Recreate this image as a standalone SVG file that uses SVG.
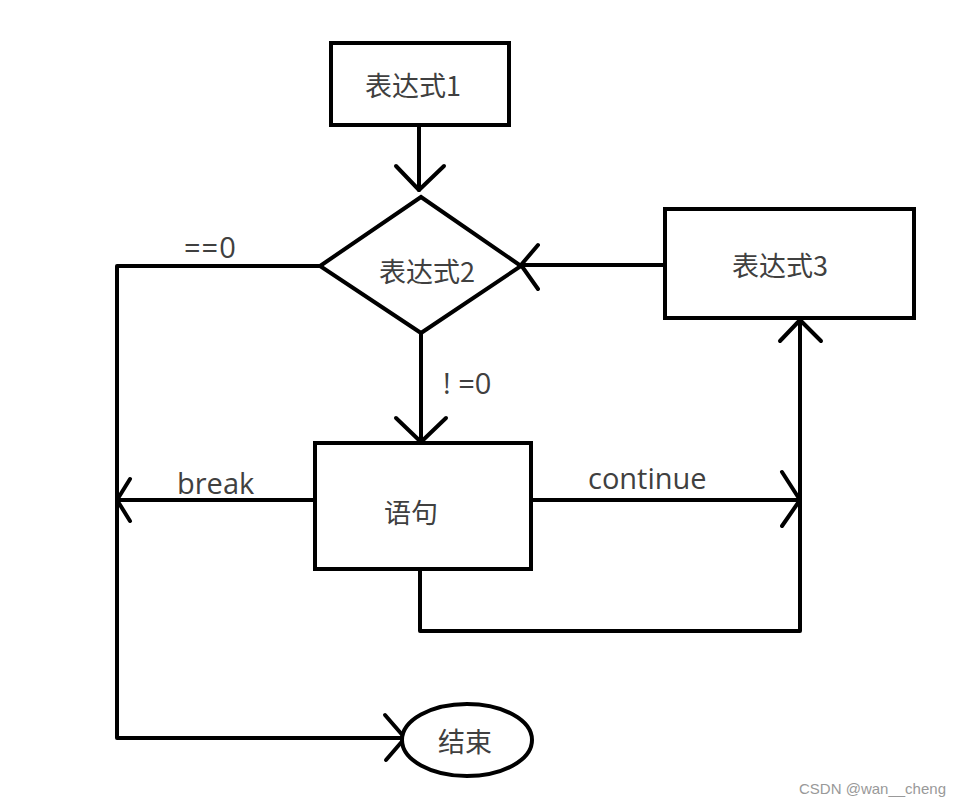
<svg xmlns="http://www.w3.org/2000/svg" width="961" height="807" viewBox="0 0 961 807">
<style>
.n{fill:#fff;stroke:#000;stroke-width:4}
.c{fill:none;stroke:#000;stroke-width:4;stroke-linecap:round;stroke-linejoin:round}
.t{font-family:"Noto Sans CJK SC","Liberation Sans",sans-serif;font-size:27px;fill:#404040;text-anchor:middle;dominant-baseline:central}
.l{font-family:"Open Sans","Liberation Sans",sans-serif;font-size:29px;fill:#404040}
.w{font-family:"Liberation Sans",sans-serif;font-size:15px;fill:#999}
</style>
<rect width="961" height="807" fill="#fff"/>
<g id="connectors">
<path class="c" d="M419 125 V190"/>
<path class="c" d="M396 166 L419 190 L444 166"/>
<path class="c" d="M664 265 H521"/>
<path class="c" d="M538 245 L521 265 L538 289"/>
<path class="c" d="M320 266 H117 V738 H405"/>
<path class="c" d="M385 715 L405 738 L386 760"/>
<path class="c" d="M421 333 V442"/>
<path class="c" d="M396 418 L421 442 L446 418"/>
<path class="c" d="M314 500 H117"/>
<path class="c" d="M130 479 L117 500 L130 521"/>
<path class="c" d="M531 500 H800"/>
<path class="c" d="M782 472 L800 500 L782 526"/>
<path class="c" d="M420 569 V631 H800 V320"/>
<path class="c" d="M780 341 L800 320 L821 341"/>
<text class="l" x="184" y="258" letter-spacing="1">==0</text>
<text class="l" x="443" y="394">! =0</text>
<text class="l" x="177" y="494">break</text>
<text class="l" x="588" y="489">continue</text>
</g>
<g id="expr1">
<rect class="n" x="331" y="43" width="178" height="82"/>
<text class="t" x="413" y="84">表达式1</text>
</g>
<g id="expr2">
<polygon class="n" points="421,197 521,266 421,333 320,266"/>
<text class="t" x="427" y="270">表达式2</text>
</g>
<g id="expr3">
<rect class="n" x="665" y="209" width="249" height="109"/>
<text class="t" x="780" y="264">表达式3</text>
</g>
<g id="stmt">
<rect class="n" x="315" y="443" width="216" height="126"/>
<text class="t" x="411" y="511">语句</text>
</g>
<g id="end">
<ellipse class="n" cx="467" cy="740" rx="65" ry="36"/>
<text class="t" x="465" y="740">结束</text>
</g>
<text class="w" x="799" y="794">CSDN @wan__cheng</text>
</svg>
